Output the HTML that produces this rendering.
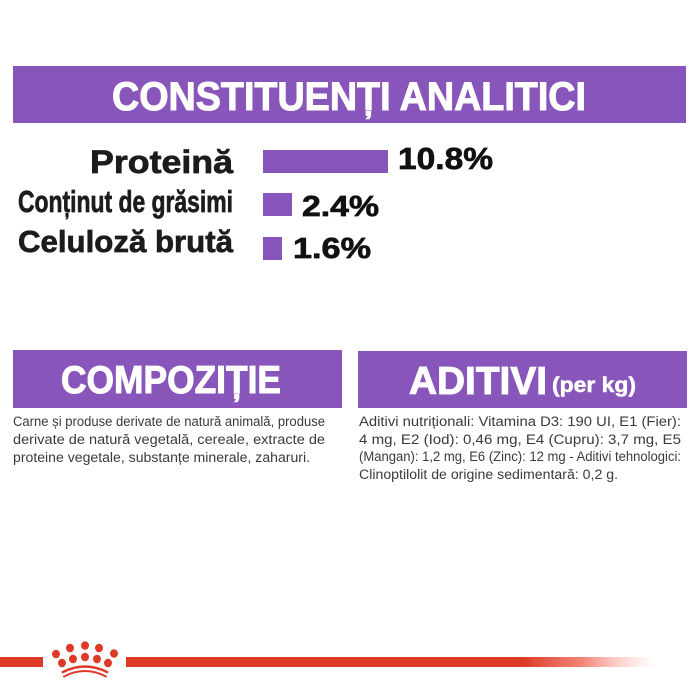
<!DOCTYPE html>
<html>
<head>
<meta charset="utf-8">
<style>
  html,body{margin:0;padding:0;background:#fff;}
  svg{display:block;}
  .b{font-family:"Liberation Sans",sans-serif;font-weight:bold;}
  .r{font-family:"Liberation Sans",sans-serif;font-weight:normal;}
</style>
</head>
<body>
<svg width="700" height="700" viewBox="0 0 700 700" xmlns="http://www.w3.org/2000/svg">
  <defs>
    <linearGradient id="fade" x1="0" y1="0" x2="1" y2="0">
      <stop offset="0" stop-color="#dc3a26" stop-opacity="1"/>
      <stop offset="0.45" stop-color="#f07060" stop-opacity="0.85"/>
      <stop offset="1" stop-color="#ffb0a8" stop-opacity="0"/>
    </linearGradient>
  </defs>
  <rect width="700" height="700" fill="#fff"/>

  <!-- Header -->
  <rect x="13" y="66" width="673" height="57" fill="#8856bb"/>
  <text class="b" x="112" y="110" font-size="40" fill="#fff" stroke="#fff" stroke-width="1" textLength="474" lengthAdjust="spacingAndGlyphs">CONSTITUENȚI ANALITICI</text>

  <!-- Labels -->
  <g class="b" fill="#1c1c1c" stroke="#1c1c1c" stroke-width="0.7">
    <text x="90" y="173" font-size="32" textLength="143" lengthAdjust="spacingAndGlyphs">Proteină</text>
    <text x="18" y="212" font-size="31" textLength="215" lengthAdjust="spacingAndGlyphs">Conținut de grăsimi</text>
    <text x="18" y="252" font-size="31" textLength="215" lengthAdjust="spacingAndGlyphs">Celuloză brută</text>
  </g>

  <!-- Bars -->
  <rect x="263" y="150" width="125" height="23" fill="#8856bb"/>
  <rect x="263" y="193" width="29" height="23" fill="#8856bb"/>
  <rect x="263" y="237" width="19" height="23" fill="#8856bb"/>

  <!-- Values -->
  <g class="b" fill="#111" stroke="#111" stroke-width="0.7">
    <text x="398" y="169" font-size="31" textLength="95" lengthAdjust="spacingAndGlyphs">10.8%</text>
    <text x="302" y="216" font-size="29" textLength="77" lengthAdjust="spacingAndGlyphs">2.4%</text>
    <text x="293" y="258" font-size="29" textLength="78" lengthAdjust="spacingAndGlyphs">1.6%</text>
  </g>

  <!-- Compozitie panel -->
  <rect x="13" y="350" width="329" height="58" fill="#8856bb"/>
  <text class="b" x="61" y="393" font-size="39" fill="#fff" stroke="#fff" stroke-width="1" textLength="220" lengthAdjust="spacingAndGlyphs">COMPOZIȚIE</text>
  <g class="r" font-size="13.5" fill="#3a3a3a">
    <text x="13" y="426" textLength="312" lengthAdjust="spacingAndGlyphs">Carne și produse derivate de natură animală, produse</text>
    <text x="13" y="444" textLength="312" lengthAdjust="spacingAndGlyphs">derivate de natură vegetală, cereale, extracte de</text>
    <text x="13" y="462" textLength="297" lengthAdjust="spacingAndGlyphs">proteine vegetale, substanțe minerale, zaharuri.</text>
  </g>

  <!-- Aditivi panel -->
  <rect x="358" y="351" width="329" height="57" fill="#8856bb"/>
  <text class="b" x="409" y="394" font-size="39" fill="#fff" stroke="#fff" stroke-width="1" textLength="138" lengthAdjust="spacingAndGlyphs">ADITIVI</text>
  <text class="b" x="552" y="392" font-size="21" fill="#fff" stroke="#fff" stroke-width="0.5" textLength="84" lengthAdjust="spacingAndGlyphs">(per kg)</text>
  <g class="r" font-size="13.5" fill="#3a3a3a">
    <text x="359" y="426" textLength="322" lengthAdjust="spacingAndGlyphs">Aditivi nutriționali: Vitamina D3: 190 UI, E1 (Fier):</text>
    <text x="359" y="444" textLength="322" lengthAdjust="spacingAndGlyphs">4 mg, E2 (Iod): 0,46 mg, E4 (Cupru): 3,7 mg, E5</text>
    <text x="359" y="461" textLength="322" lengthAdjust="spacingAndGlyphs">(Mangan): 1,2 mg, E6 (Zinc): 12 mg - Aditivi tehnologici:</text>
    <text x="359" y="479" textLength="259" lengthAdjust="spacingAndGlyphs">Clinoptilolit de origine sedimentară: 0,2 g.</text>
  </g>

  <!-- Footer line -->
  <rect x="0" y="657" width="43" height="10" fill="#dc3a26"/>
  <rect x="126" y="657" width="398" height="10" fill="#dc3a26"/>
  <rect x="523" y="657" width="132" height="10" fill="url(#fade)"/>

  <!-- Crown -->
  <g fill="#dc3a26">
    <ellipse cx="56" cy="654" rx="4" ry="4.3"/>
    <ellipse cx="70" cy="648" rx="4" ry="4.3"/>
    <ellipse cx="85" cy="645.5" rx="4" ry="4.3"/>
    <ellipse cx="99" cy="648" rx="4" ry="4.3"/>
    <ellipse cx="114" cy="653.5" rx="4" ry="4.3"/>
    <ellipse cx="62" cy="663" rx="4" ry="4.3"/>
    <ellipse cx="73" cy="659" rx="4" ry="4.3"/>
    <ellipse cx="85" cy="657" rx="4" ry="4.3"/>
    <ellipse cx="97" cy="659" rx="4" ry="4.3"/>
    <ellipse cx="108" cy="663" rx="4" ry="4.3"/>
  </g>
  <g fill="none" stroke="#dc3a26" stroke-linecap="round">
    <path d="M63 672 Q85 661 107 672" stroke-width="2.6"/>
    <path d="M64 676.5 Q85 665.5 106 676.5" stroke-width="2"/>
  </g>
</svg>
</body>
</html>
